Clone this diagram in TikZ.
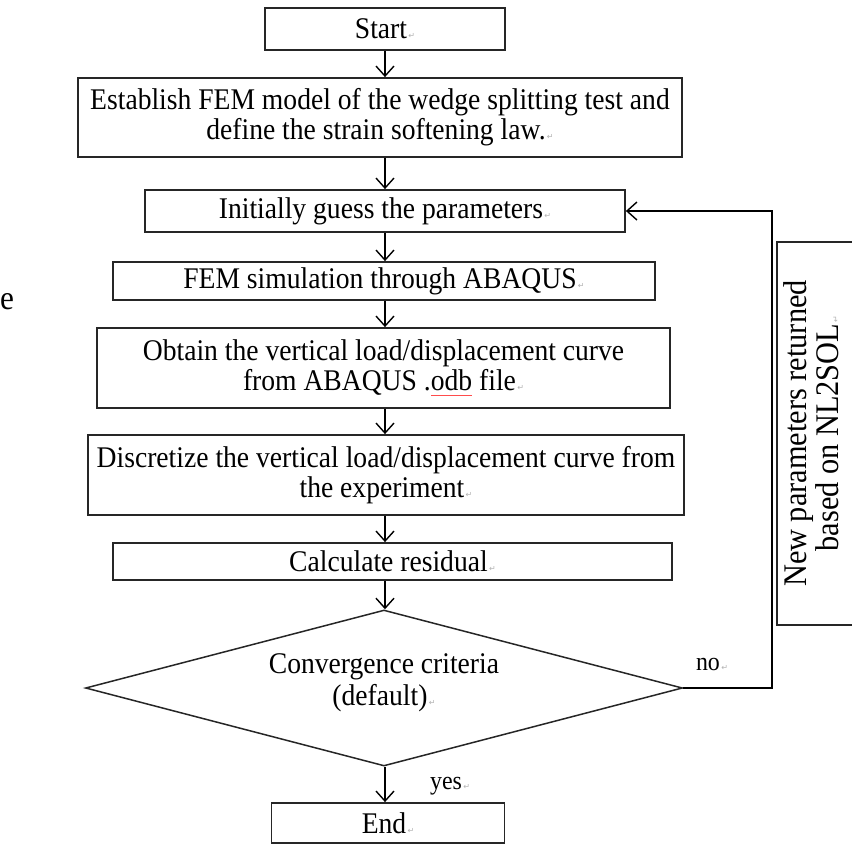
\documentclass[tikz,border=0pt]{standalone}
\usepackage{fontspec}
\setmainfont[FakeStretch=0.92]{Liberation Serif}
\newfontfamily\symfont{DejaVu Sans}
\usetikzlibrary{shapes.geometric,arrows.meta}

% small paragraph mark after each text
\newcommand{\retmark}{{\symfont\fontsize{8}{8}\selectfont\color{gray!60}\,↵}}
% red spell-check line under a word
\newcommand{\spellmark}[1]{{\setbox0\hbox{#1}\rlap{\color{red!70}\raisebox{-5pt}{\rule{\wd0}{0.8pt}}}\box0}}

\tikzset{
  stepbox/.style={draw=black!85, line width=1.8pt, inner sep=0pt, align=center,
    font=\fontsize{30}{30}\selectfont},
  flow/.style={line width=1.4pt, -{Straight Barb[length=10pt,width=18pt,line width=1.4pt]}},
  tag/.style={font=\fontsize{26}{26}\selectfont},
}

\begin{document}
\begin{tikzpicture}[x=1pt,y=-1pt]
        \useasboundingbox (0,0) rectangle (852,844);

        % Passi
        \node[stepbox, minimum width=240pt, minimum height=42pt] (start) at (385,29) {Start\retmark};
        \node[stepbox, minimum width=604pt, minimum height=79pt] (model) at (380,117.5)
          {Establish FEM model of the wedge splitting test and\\define the strain softening law.\retmark};
        \node[stepbox, minimum width=480pt, minimum height=42pt] (guess) at (385,211) {Initially guess the parameters\retmark};
        \node[stepbox, minimum width=542pt, minimum height=38pt] (fem) at (384,281) {FEM simulation through ABAQUS\retmark};
        \node[stepbox, minimum width=573pt, minimum height=80pt] (obtain) at (383.5,368)
          {Obtain the vertical load/displacement curve\\from ABAQUS .\spellmark{odb} file\retmark};
        \node[stepbox, minimum width=596pt, minimum height=80pt] (discr) at (386,475)
          {Discretize the vertical load/displacement curve from\\the experiment\retmark};
        \node[stepbox, minimum width=559pt, minimum height=37pt] (resid) at (392.5,561.5) {Calculate residual\retmark};
        \node[draw=black!85, line width=1.5pt, diamond, aspect=3.7, inner sep=0pt, align=center,
          font=\fontsize{30}{32}\selectfont, minimum width=597pt, minimum height=156pt] (check) at (384,688)
          {Convergence criteria\\(default)\retmark\\[-16pt]};
        \node[stepbox, minimum width=233pt, minimum height=40pt] (finish) at (388,823) {End\retmark};

        % Ritorno
        \node[draw=black!85, line width=1.8pt, rotate=90, align=center, inner sep=0pt,
          font=\fontsize{33}{32}\selectfont, minimum width=383pt, minimum height=82pt] (newpar) at (818,433.5)
          {New parameters returned\\based on NL2SOL\retmark\\[-18pt]};
        \coordinate (turn) at (772,688);

        % Frecce
        \draw[flow] (start.south) -- (start.south |- model.north);
        \draw[flow] (guess.south |- model.south) -- (guess.north);
        \draw[flow] (guess.south) -- (guess.south |- fem.north);
        \draw[flow] (guess.south |- fem.south) -- (guess.south |- obtain.north);
        \draw[flow] (guess.south |- obtain.south) -- (guess.south |- discr.north);
        \draw[flow] (guess.south |- discr.south) -- (guess.south |- resid.north);
        \draw[flow] (guess.south |- resid.south) -- (guess.south |- check.north);
        \draw[flow] (guess.south |- check.south) -- (guess.south |- finish.north);
        \draw[flow] (check.east) -- (turn) |- (guess.east);

        % Etichette
        \node[tag] (yes) at (450,786) {yes\retmark};
        \node[tag] (no) at (712,664) {no\retmark};
        \node[font=\fontsize{34}{34}\selectfont, anchor=base west, inner sep=0pt] (stray) at (0,309) {e};
\end{tikzpicture}
\end{document}
